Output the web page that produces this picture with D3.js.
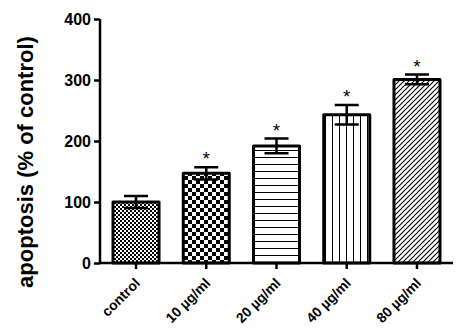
<!DOCTYPE html>
<html>
<head>
<meta charset="utf-8">
<script src="https://cdn.jsdelivr.net/npm/d3@7"></script>
<style>
  body { margin: 0; background: #fff; }
  svg { display: block; }
  text { font-family: Arial, 'Liberation Sans', sans-serif; }
</style>
</head>
<body>
<div id="graph"></div>
<script>
var categories = ['control', '10 µg/ml', '20 µg/ml', '40 µg/ml', '80 µg/ml']
var means = [100, 147, 192, 243, 301]
var errors = [10, 10, 12, 16, 8]
var significant = [false, true, true, true, true]
var fills = ['checkFine', 'checkCoarse', 'hLines', 'vLines', 'diag']
var yTicks = [0, 100, 200, 300, 400]

var data = categories.map((d, i) => ({
  name: d, mean: means[i], err: errors[i], sig: significant[i], fill: fills[i]
}))

var width = 464, height = 336

var svg = d3.select('#graph').append('svg')
  .attr('width', width)
  .attr('height', height)

var x = d3.scaleBand()
  .domain(categories)
  .range([101, 452])
  .paddingInner(0.345)
  .paddingOuter(0.171)

var y = d3.scaleLinear()
  .domain([0, 400])
  .range([263, 19])

// fill patterns
var defs = svg.append('defs')

var p = defs.append('pattern').attr('id', 'checkFine')
  .attr('patternUnits', 'userSpaceOnUse').attr('width', 4).attr('height', 4)
p.append('rect').attr('width', 4).attr('height', 4).attr('fill', '#fff')
p.append('rect').attr('width', 2).attr('height', 2).attr('fill', '#000')
p.append('rect').attr('x', 2).attr('y', 2).attr('width', 2).attr('height', 2).attr('fill', '#000')

p = defs.append('pattern').attr('id', 'checkCoarse')
  .attr('patternUnits', 'userSpaceOnUse').attr('width', 8).attr('height', 8)
p.append('rect').attr('width', 8).attr('height', 8).attr('fill', '#fff')
p.append('rect').attr('width', 4).attr('height', 4).attr('fill', '#000')
p.append('rect').attr('x', 4).attr('y', 4).attr('width', 4).attr('height', 4).attr('fill', '#000')

p = defs.append('pattern').attr('id', 'hLines')
  .attr('patternUnits', 'userSpaceOnUse').attr('width', 7).attr('height', 7)
p.append('rect').attr('width', 7).attr('height', 7).attr('fill', '#fff')
p.append('rect').attr('y', 3).attr('width', 7).attr('height', 1).attr('fill', '#000')

p = defs.append('pattern').attr('id', 'vLines')
  .attr('patternUnits', 'userSpaceOnUse').attr('width', 7).attr('height', 7)
p.append('rect').attr('width', 7).attr('height', 7).attr('fill', '#fff')
p.append('rect').attr('x', 3).attr('width', 1).attr('height', 7).attr('fill', '#000')

p = defs.append('pattern').attr('id', 'diag')
  .attr('patternUnits', 'userSpaceOnUse').attr('width', 5).attr('height', 5)
p.append('rect').attr('width', 5).attr('height', 5).attr('fill', '#fff')
p.append('path').attr('d', 'M0,5L5,0M-1,1L1,-1M4,6L6,4')
  .attr('stroke', '#000').attr('stroke-width', 1.1)

// bars
var barSel = svg.append('g').selectAll('g')
  .data(data).join('g')

barSel.append('rect')
  .attr('x', d => x(d.name))
  .attr('y', d => y(d.mean))
  .attr('width', x.bandwidth())
  .attr('height', d => y(0) - y(d.mean))
  .attr('fill', d => 'url(#' + d.fill + ')')
  .attr('stroke', '#000')
  .attr('stroke-width', 3)
  .attr('stroke-linejoin', 'round')

// error bars
var cap = 12
var cx = d => x(d.name) + x.bandwidth() / 2
barSel.append('path')
  .attr('d', d => {
    var hi = y(d.mean + d.err), lo = y(d.mean - d.err), c = cx(d)
    return 'M' + c + ',' + hi + 'V' + lo +
      'M' + (c - cap) + ',' + hi + 'H' + (c + cap) +
      'M' + (c - cap) + ',' + lo + 'H' + (c + cap)
  })
  .attr('fill', 'none')
  .attr('stroke', '#000')
  .attr('stroke-width', 2.5)

barSel.filter(d => d.sig).append('text')
  .attr('x', cx)
  .attr('y', d => y(d.mean + d.err) - 2)
  .attr('text-anchor', 'middle')
  .style('font-size', '19px')
  .text('*')

// axes
var yAxis = svg.append('g')
  .attr('transform', 'translate(100,0)')
  .call(d3.axisLeft(y).tickValues(yTicks).tickSize(6).tickSizeOuter(0))
var xAxis = svg.append('g')
  .attr('transform', 'translate(0,263)')
  .call(d3.axisBottom(x).tickSize(6).tickSizeOuter(0))

svg.selectAll('.domain, .tick line')
  .attr('stroke', '#000')
  .attr('stroke-width', 2.5)

yAxis.select('.domain').attr('d', 'M0,' + y(400) + 'V' + y(0))
xAxis.select('.domain').attr('d', 'M100,0H453')

yAxis.selectAll('.tick text')
  .attr('x', -9)
  .style('font-size', '16px')
  .style('font-weight', 'bold')
  .style('font-family', 'Arial, Liberation Sans, sans-serif')
  .attr('fill', '#000')

xAxis.selectAll('.tick text')
  .attr('x', 0).attr('y', 0).attr('dy', 0)
  .attr('transform', 'translate(5,21) rotate(-45)')
  .attr('text-anchor', 'end')
  .style('font-size', '14px')
  .style('font-weight', 'bold')
  .style('font-family', 'Arial, Liberation Sans, sans-serif')
  .attr('fill', '#000')

svg.append('text')
  .attr('transform', 'translate(33,162) rotate(-90)')
  .attr('text-anchor', 'middle')
  .style('font-size', '22px')
  .style('font-weight', 'bold')
  .text('apoptosis (% of control)')
</script>
</body>
</html>
